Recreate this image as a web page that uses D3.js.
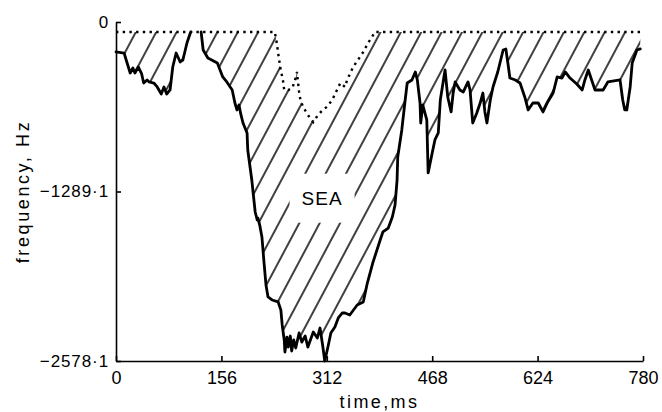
<!DOCTYPE html>
<html><head><meta charset="utf-8">
<script src="https://cdn.jsdelivr.net/npm/d3@7"></script>
<style>
body{margin:0;background:#fff;}
svg{display:block;}
text{font-family:"Liberation Sans",Arial,sans-serif;fill:#000;}
</style>
</head><body>
<svg id="c" width="662" height="412"></svg>
<script>
// ---- data (time in ms, frequency in Hz) ----
const solidTime = [0,12,16,21,25,28,33,38,41,46,49,56,61,67,71,75,80,84,89,95,99,105,110,111,
  118,
  126,129,136,150,158,164,172,176,179,182,185,188,194,195,201,206,209,210,213,216,219,222,225,231,240,244,246,249,250,253,255,258,260,263,266,271,275,280,284,292,298,302,306,309,314,318,324,329,335,339,346,357,366,372,380,391,395,403,409,413,416,417,423,428,431,438,443,446,450,451,454,460,462,468,472,477,480,487,491,496,499,502,509,514,521,524,528,534,539,543,546,549,554,558,565,573,577,580,583,591,598,605,610,617,625,632,639,647,653,660,665,672,682,690,694,699,705,709,721,728,746,750,753,756,761,764,771,776];
const solidFreq = [-228,-236,-304,-388,-350,-388,-342,-395,-464,-441,-456,-464,-494,-548,-494,-548,-517,-342,-236,-304,-289,-160,-84,-76,
  null,
  -76,-213,-274,-312,-418,-456,-517,-616,-669,-631,-707,-768,-844,-973,-1202,-1445,-1506,-1491,-1551,-1635,-1825,-2000,-2091,-2114,-2129,-2190,-2304,-2418,-2510,-2396,-2472,-2388,-2502,-2418,-2479,-2365,-2434,-2388,-2472,-2358,-2403,-2327,-2464,-2578,-2464,-2365,-2320,-2251,-2213,-2213,-2228,-2152,-2129,-1985,-1833,-1658,-1597,-1567,-1483,-1392,-1202,-1027,-821,-593,-464,-441,-380,-441,-616,-768,-631,-745,-1148,-996,-897,-844,-593,-365,-570,-684,-540,-456,-517,-532,-456,-517,-768,-692,-616,-540,-684,-768,-593,-494,-380,-213,-205,-312,-426,-441,-464,-570,-669,-616,-616,-684,-608,-540,-418,-426,-380,-426,-472,-517,-441,-365,-456,-517,-517,-456,-441,-593,-669,-669,-494,-312,-213,-205];
const dotTime = [0,235,238,240,243,247,249,255,261,265,268,269,271,273,277,284,292,299,306,312,320,332,339,342,351,358,366,373,379,383,776];
const dotFreq = [-76,-76,-160,-236,-342,-441,-517,-517,-502,-441,-380,-441,-532,-593,-646,-707,-761,-707,-669,-646,-593,-464,-494,-441,-342,-289,-228,-160,-114,-76,-76];
const xTicks = [0,156,312,468,624,780];
const yTicks = [0,-1289.1,-2578.1];
const yTickLabels = ["0","\u22121289\u00b71","\u22122578\u00b71"];
const xTitle = "time,ms";
const yTitle = "frequency, Hz";
const regionLabel = "SEA";
const regionLabelTime = 305, regionLabelFreq = -1340;

// ---- drawing ----
const svg = d3.select("#c");
const x = d3.scaleLinear().domain([0,780]).range([116,643]);
const y = d3.scaleLinear().domain([-2578.1,0]).range([361,22]);

const defs = svg.append("defs");
const pat = defs.append("pattern").attr("id","hatch")
  .attr("patternUnits","userSpaceOnUse")
  .attr("width",18).attr("height",30)
  .attr("patternTransform","rotate(28)");
pat.append("line").attr("x1",9).attr("y1",-2).attr("x2",9).attr("y2",32)
  .attr("stroke","#000").attr("stroke-width",1.5);

const dotPts = dotTime.map((t,i)=>[x(t), y(dotFreq[i])]);
const solPts = solidTime.map((t,i)=>[t, solidFreq[i]])
  .filter(d=>d[1]!==null).map(d=>[x(d[0]), y(d[1])]);
const poly = dotPts.concat(solPts.slice().reverse());

svg.append("path").attr("d", d3.line()(poly)+"Z")
  .attr("fill","url(#hatch)").attr("stroke","none");

// label with white knock-out
const lbl = svg.append("text")
  .attr("x", x(regionLabelTime)).attr("y", y(regionLabelFreq))
  .attr("text-anchor","middle").attr("dominant-baseline","central")
  .attr("font-size",19).attr("letter-spacing",1).text(regionLabel);
const bb = lbl.node().getBBox();
svg.insert("rect","text")
  .attr("x", bb.x-12).attr("y", bb.y-14)
  .attr("width", bb.width+24).attr("height", bb.height+28)
  .attr("fill","#fff");

// solid curve
svg.append("path")
  .datum(solidTime.map((t,i)=>[t, solidFreq[i]]))
  .attr("d", d3.line().defined(d=>d[1]!==null).x(d=>x(d[0])).y(d=>y(d[1])))
  .attr("fill","none").attr("stroke","#000").attr("stroke-width",2.8)
  .attr("stroke-linejoin","round").attr("stroke-linecap","round");

// dotted curve
svg.append("path")
  .datum(dotTime.map((t,i)=>[t, dotFreq[i]]))
  .attr("d", d3.line().x(d=>x(d[0])).y(d=>y(d[1])))
  .attr("fill","none").attr("stroke","#000").attr("stroke-width",2.4)
  .attr("stroke-dasharray","2.4 4.3");

// axes
const gx = svg.append("g").attr("transform",`translate(0,${y(-2578.1)})`)
  .call(d3.axisBottom(x).tickValues(xTicks).tickSizeInner(-5).tickSizeOuter(0).tickPadding(10).tickFormat(d3.format("d")));
gx.selectAll("text").attr("font-size",18).attr("font-family","Liberation Sans, Arial, sans-serif");
const gy = svg.append("g").attr("transform",`translate(${x(0)},0)`)
  .call(d3.axisLeft(y).tickValues(yTicks).tickSizeInner(-5).tickSizeOuter(0).tickPadding(7)
    .tickFormat((d,i)=>yTickLabels[i]));
gy.selectAll("text").attr("font-size",17).attr("letter-spacing",0.9).attr("font-family","Liberation Sans, Arial, sans-serif");
svg.selectAll(".domain, .tick line").attr("stroke","#000").attr("stroke-width",1.6);

svg.append("text").attr("x",(x(0)+x(780))/2).attr("y",408)
  .attr("text-anchor","middle").attr("font-size",18).attr("letter-spacing",2.4).text(xTitle);
svg.append("text").attr("transform",`translate(29,${(y(0)+y(-2578.1))/2}) rotate(-90)`)
  .attr("text-anchor","middle").attr("font-size",18).attr("letter-spacing",2.6).text(yTitle);
</script>
</body></html>
